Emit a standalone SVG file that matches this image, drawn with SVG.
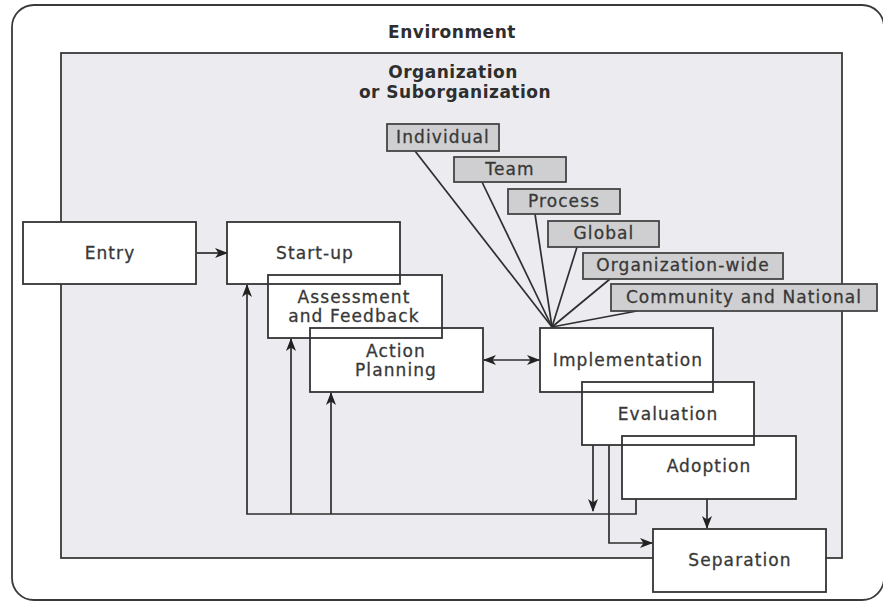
<svg xmlns="http://www.w3.org/2000/svg" width="883" height="606" viewBox="0 0 883 606">
  <style>
    .frame { stroke: #3a3a3a; stroke-width: 1.8; }
    .box { fill: none; stroke: #333; stroke-width: 1.8; }
    .tag { fill: #cfcfd1; stroke: #444; stroke-width: 1.8; }
    .lbl { font-family: "DejaVu Sans", Verdana, sans-serif; font-size: 17px; fill: #383838; stroke: #383838; stroke-width: 0.3; text-anchor: middle; letter-spacing: 1.1px; }
    .head { font-family: "DejaVu Sans", Verdana, sans-serif; font-weight: bold; font-size: 17px; fill: #2e2e2e; text-anchor: middle; letter-spacing: 0.5px; }
    .wire { fill: none; stroke: #2e2e2e; stroke-width: 1.7; }
  </style>
  <defs>
    <marker id="arr" markerWidth="13" markerHeight="11" viewBox="0 0 13 11" refX="12" refY="5.5" orient="auto-start-reverse" markerUnits="userSpaceOnUse">
      <path d="M0,0.5 L13,5.5 L0,10.5 L3.5,5.5 Z" fill="#222"/>
    </marker>
  </defs>

  <!-- environment and organization frames -->
  <rect x="0" y="0" width="883" height="606" fill="#ffffff"/>
  <rect class="frame" x="12" y="5" width="872" height="595" rx="22" ry="22" fill="#ffffff"/>
  <text class="head" x="452" y="38">Environment</text>
  <rect class="frame" x="61" y="53" width="781" height="505" fill="#ececf0"/>
  <text class="head" x="453" y="78">Organization</text>
  <text class="head" x="455" y="98">or Suborganization</text>

  <!-- connectors -->
  <g id="connectors">
    <line class="wire" x1="415" y1="151" x2="552" y2="327"/>
    <line class="wire" x1="482" y1="182" x2="552" y2="327"/>
    <line class="wire" x1="535" y1="214" x2="552" y2="327"/>
    <line class="wire" x1="577" y1="247" x2="552" y2="327"/>
    <line class="wire" x1="610" y1="279" x2="552" y2="327"/>
    <line class="wire" x1="637" y1="311" x2="552" y2="327"/>
    <line class="wire" x1="197" y1="253" x2="227" y2="253" marker-end="url(#arr)"/>
    <line class="wire" x1="484" y1="360" x2="539" y2="360" marker-start="url(#arr)" marker-end="url(#arr)"/>
    <polyline class="wire" points="636,498 636,514 247,514 247,285" marker-end="url(#arr)"/>
    <line class="wire" x1="291" y1="514" x2="291" y2="339" marker-end="url(#arr)"/>
    <line class="wire" x1="331" y1="514" x2="331" y2="393" marker-end="url(#arr)"/>
    <line class="wire" x1="593" y1="445" x2="593" y2="511" marker-end="url(#arr)"/>
    <polyline class="wire" points="609,445 609,543 652,543" marker-end="url(#arr)"/>
    <line class="wire" x1="707" y1="498" x2="707" y2="528" marker-end="url(#arr)"/>
  </g>

  <!-- white backing for the overlapping stage boxes -->
  <g fill="#ffffff">
    <rect x="23" y="222" width="173" height="62"/>
    <rect x="227" y="222" width="173" height="62"/>
    <rect x="268" y="275" width="174" height="63"/>
    <rect x="310" y="328" width="173" height="64"/>
    <rect x="540" y="328" width="173" height="64"/>
    <rect x="582" y="382" width="172" height="63"/>
    <rect x="622" y="436" width="174" height="63"/>
    <rect x="653" y="529" width="173" height="63"/>
  </g>

  <!-- stage nodes -->
  <g id="entry">
    <rect class="box" x="23" y="222" width="173" height="62"/>
    <text class="lbl" x="110" y="259">Entry</text>
  </g>
  <g id="startup">
    <rect class="box" x="227" y="222" width="173" height="62"/>
    <text class="lbl" x="315" y="259">Start-up</text>
  </g>
  <g id="assessment">
    <rect class="box" x="268" y="275" width="174" height="63"/>
    <text class="lbl" x="354" y="303">Assessment</text>
    <text class="lbl" x="354" y="322">and Feedback</text>
  </g>
  <g id="action-planning">
    <rect class="box" x="310" y="328" width="173" height="64"/>
    <text class="lbl" x="396" y="357">Action</text>
    <text class="lbl" x="396" y="376">Planning</text>
  </g>
  <g id="implementation">
    <rect class="box" x="540" y="328" width="173" height="64"/>
    <text class="lbl" x="628" y="366">Implementation</text>
  </g>
  <g id="evaluation">
    <rect class="box" x="582" y="382" width="172" height="63"/>
    <text class="lbl" x="668" y="420">Evaluation</text>
  </g>
  <g id="adoption">
    <rect class="box" x="622" y="436" width="174" height="63"/>
    <text class="lbl" x="709" y="472">Adoption</text>
  </g>
  <g id="separation">
    <rect class="box" x="653" y="529" width="173" height="63"/>
    <text class="lbl" x="740" y="566">Separation</text>
  </g>

  <!-- level tags -->
  <g id="individual">
    <rect class="tag" x="387" y="124" width="112" height="27"/>
    <text class="lbl" x="443" y="143">Individual</text>
  </g>
  <g id="team">
    <rect class="tag" x="454" y="157" width="112" height="25"/>
    <text class="lbl" x="510" y="175">Team</text>
  </g>
  <g id="process">
    <rect class="tag" x="508" y="189" width="112" height="25"/>
    <text class="lbl" x="564" y="207">Process</text>
  </g>
  <g id="global">
    <rect class="tag" x="548" y="221" width="111" height="26"/>
    <text class="lbl" x="604" y="239">Global</text>
  </g>
  <g id="organization-wide">
    <rect class="tag" x="583" y="253" width="200" height="26"/>
    <text class="lbl" x="683" y="271">Organization-wide</text>
  </g>
  <g id="community-national">
    <rect class="tag" x="611" y="284" width="266" height="27"/>
    <text class="lbl" x="744" y="303">Community and National</text>
  </g>
</svg>
